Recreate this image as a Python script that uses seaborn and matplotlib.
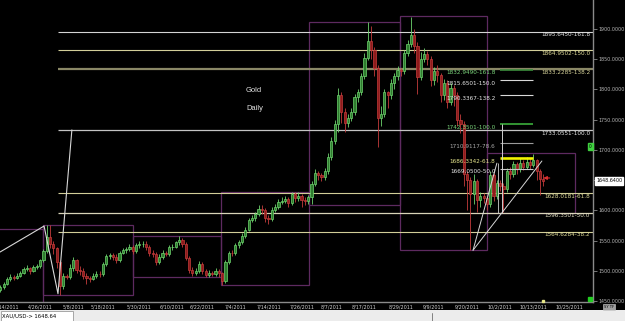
import numpy as np
import pandas as pd
import matplotlib
matplotlib.use("Agg")
import matplotlib.pyplot as plt
import matplotlib.transforms as mtransforms
from matplotlib.patches import Rectangle
from matplotlib import font_manager
import seaborn as sns

# ---------------- data ----------------
first_open = 1468
closes = [1473,1478,1486,1490,1488,1492,1496,1503,1505,1500,
          1506,1508,1517,1532,1556,1545,1537,1515,1474,1491,
          1490,1505,1517,1502,1500,1492,1488,1487,1492,1495,
          1494,1511,1524,1526,1523,1518,1530,1534,1536,1540,
          1532,1542,1544,1545,1539,1530,1528,1515,1523,1530,
          1528,1539,1540,1547,1551,1545,1521,1502,1497,1500,
          1512,1499,1493,1497,1494,1500,1496,1483,1514,1530,
          1529,1542,1547,1558,1568,1584,1587,1594,1603,1600,
          1588,1586,1601,1605,1614,1616,1618,1612,1627,1620,
          1624,1617,1615,1622,1644,1662,1658,1655,1665,1688,
          1715,1742,1790,1762,1745,1752,1762,1787,1795,1822,
          1852,1880,1865,1835,1752,1760,1795,1790,1810,1822,
          1832,1830,1860,1876,1890,1872,1820,1850,1858,1850,
          1815,1830,1824,1790,1810,1780,1802,1790,1750,1742,
          1660,1650,1627,1648,1617,1623,1620,1610,1658,1623,
          1645,1640,1636,1665,1660,1676,1668,1678,1672,1680,
          1675,1683,1665,1652,1648.64]
highs = [1477,1482,1489,1494,1493,1497,1500,1506,1509,1507,
         1509,1512,1520,1536,1575,1576,1550,1540,1518,1496,
         1494,1512,1522,1520,1508,1504,1496,1492,1497,1499,
         1500,1514,1527,1530,1530,1527,1533,1538,1540,1545,
         1543,1546,1549,1550,1549,1542,1535,1531,1527,1534,
         1533,1542,1545,1550,1557,1554,1548,1525,1507,1505,
         1516,1515,1503,1501,1499,1504,1503,1498,1517,1533,
         1535,1546,1551,1563,1572,1588,1592,1598,1609,1608,
         1604,1593,1605,1610,1619,1622,1624,1622,1630,1630,
         1630,1627,1622,1626,1648,1668,1665,1662,1670,1695,
         1722,1750,1802,1795,1770,1760,1770,1792,1800,1828,
         1860,1911,1905,1870,1840,1772,1800,1798,1818,1828,
         1838,1836,1866,1882,1920,1900,1878,1862,1868,1864,
         1855,1837,1840,1828,1818,1815,1810,1808,1795,1760,
         1748,1665,1655,1660,1652,1630,1628,1626,1665,1662,
         1650,1650,1645,1670,1672,1682,1680,1686,1684,1688,
         1686,1694,1685,1668,1660]
lows = [1465,1470,1476,1483,1485,1486,1489,1494,1500,1494,
        1498,1503,1505,1514,1530,1538,1528,1505,1460,1470,
        1487,1486,1500,1496,1493,1486,1478,1482,1484,1488,
        1489,1492,1508,1520,1517,1513,1515,1527,1530,1533,
        1528,1530,1538,1539,1535,1525,1522,1510,1512,1520,
        1524,1525,1535,1537,1543,1540,1518,1497,1492,1493,
        1497,1495,1490,1490,1491,1491,1490,1477,1480,1511,
        1524,1526,1538,1544,1554,1565,1580,1583,1590,1594,
        1580,1578,1583,1597,1602,1610,1612,1606,1609,1614,
        1616,1606,1608,1610,1610,1640,1650,1648,1650,1660,
        1683,1710,1730,1745,1730,1738,1747,1757,1780,1790,
        1818,1848,1850,1822,1705,1740,1755,1770,1785,1800,
        1815,1822,1826,1855,1870,1860,1792,1815,1845,1840,
        1805,1808,1812,1780,1783,1770,1775,1772,1740,1728,
        1640,1600,1534,1610,1598,1605,1612,1600,1606,1615,
        1618,1632,1597,1630,1652,1655,1660,1663,1666,1668,
        1668,1672,1650,1625,1640]

tick_bars = [2,12,22,31,42,52,61,71,81,91,100,110,121,131,141,151,161,172]
tick_labels = ['4/14/2011','4/26/2011','5/8/2011','5/18/2011','5/30/2011','6/10/2011',
               '6/22/2011','7/4/2011','7/14/2011','7/26/2011','8/7/2011','8/17/2011',
               '8/29/2011','9/9/2011','9/20/2011','10/2/2011','10/13/2011','10/25/2011']
price_ticks = [1450,1500,1550,1600,1650,1700,1750,1800,1850,1900]
last_price = 1648.64

fib1_prices = [1895.6450, 1864.9502, 1833.2285, 1733.0551, 1628.0181, 1596.3501, 1564.6284]
fib1_levels = ['161.8','150.0','138.2','100.0','61.8','50.0','38.2']
fib2_prices = [1832.9490, 1815.6501, 1790.3367, 1742.3501, 1710.9117, 1686.3342, 1669.0500]
fib2_levels = ['161.8','150.0','138.2','100.0','78.6','61.8','50.0']

# monthly range boxes (bar index start/end, high, low)
box_start = [-5, 12.9, 40.1, 66.6, 93.2, 120.7, 147.0]
box_end = [12.9, 40.1, 66.6, 93.2, 120.7, 147.0, 173.6]
box_high = [1569, 1576, 1557, 1630, 1911.6, 1921.5, 1695]
box_low = [1400, 1460, 1490, 1476, 1609, 1534.4, 1596]

# swing lines (bar index, price)
swing_bars = [-0.1, 13.2, 17.4, 21.6]
swing_prices = [1531, 1574, 1462, 1733]
tri_apex = (142.8, 1534)
tri_ends = [(150.0, 1678), (163.6, 1681.6)]

# ---------------- style ----------------
sns.set_theme(style="dark", rc={"axes.facecolor": "black", "figure.facecolor": "black"})
names = {f.name for f in font_manager.fontManager.ttflist}
NARROW = 'Liberation Sans Narrow' if 'Liberation Sans Narrow' in names else 'DejaVu Sans'
plt.rcParams['font.family'] = [NARROW, 'DejaVu Sans']
plt.rcParams['font.stretch'] = 'condensed'

fig = plt.figure(figsize=(6.25, 3.21), dpi=100)
fig.patch.set_facecolor('black')
ax = fig.add_axes([0, 19/321, 593/625, 302/321])
ax.set_facecolor('black')

n = len(closes)
opens = [first_open] + closes[:-1]
df = pd.DataFrame(dict(bar=np.arange(n), open=opens, high=highs, low=lows, close=closes))
df['up'] = df['close'] >= df['open']
df['bottom'] = df[['open', 'close']].min(axis=1)
df['height'] = (df['close'] - df['open']).abs().clip(lower=0.9)

FS_FIB = 4.6
FS_TICK = 3.9

# boxes
for s, e, h, l in zip(box_start, box_end, box_high, box_low):
    ax.add_patch(Rectangle((s, l), e - s, h - l, fill=False, edgecolor='#5e2a60', lw=0.9, zorder=1))

# fib set 1
f1_line_cols = ['#d4d4d4', '#d2ce98', '#8a8866', '#c4c4c4', '#d2ce98', '#d8d4b8', '#d2ce98']
f1_lw = [0.8, 0.8, 1.6, 0.9, 0.8, 0.9, 0.8]
f1_txt_cols = ['#e8e8e8', '#e0dc9a', '#d8d49a', '#e8e8e8', '#e0dc9a', '#e4e0c4', '#e0dc9a']
for p, lv, c, w, tc in zip(fib1_prices, fib1_levels, f1_line_cols, f1_lw, f1_txt_cols):
    ax.hlines(p, swing_bars[2], 182, color=c, lw=w, zorder=2)
    ax.text(178.2, p - 1.2, f"{p:.4f}-{lv}", color=tc, fontsize=FS_FIB, ha='right', va='top', zorder=6)

# fib set 2
f2_line_cols = ['#3a8a3a', '#d8d8d8', '#d8d8d8', '#3cae3c', '#9a9a9a', '#f2f200', '#c8c8c8']
f2_lw = [1.2, 0.8, 0.8, 1.2, 0.8, 1.9, 0.8]
f2_txt_cols = ['#7cd67c', '#e8e8e8', '#e8e8e8', '#7cd67c', '#a8a8a8', '#e6e68c', '#e8e8e8']
for p, lv, c, w, tc in zip(fib2_prices, fib2_levels, f2_line_cols, f2_lw, f2_txt_cols):
    ax.hlines(p, 151.0, 160.9, color=c, lw=w, zorder=4)
    ax.text(149.6, p - 1.0, f"{p:.4f}-{lv}", color=tc, fontsize=FS_FIB, ha='right', va='top', zorder=6)
ax.vlines(151.6, fib2_prices[3] - 146.6, fib2_prices[3], color='#d0d0d0', lw=0.7, zorder=4)

# candles
for up, sub in df.groupby('up'):
    face = '#2e7d2e' if up else '#8e1b1b'
    edge = '#6fd46f' if up else '#c53c3c'
    ax.vlines(sub['bar'], sub['low'], sub['high'], color=edge, lw=0.6, zorder=3)
    ax.bar(sub['bar'], sub['height'], bottom=sub['bottom'], width=0.66,
           color=face, edgecolor=edge, linewidth=0.5, zorder=3.5)

# swing / trend lines
sns.lineplot(x=swing_bars, y=swing_prices, ax=ax, color='#d8d8d8', lw=0.8, sort=False,
             estimator=None, zorder=5)
for ex, ey in tri_ends:
    sns.lineplot(x=[tri_apex[0], ex], y=[tri_apex[1], ey], ax=ax, color='#d8d8d8', lw=0.7,
                 sort=False, estimator=None, zorder=5)
ax.vlines(150.4, 1596, 1678, color='#d0d0d0', lw=0.6, zorder=5)

# red arrow
ax.annotate('', xy=(163.2, 1653.5), xytext=(166.8, 1653.5),
            arrowprops=dict(arrowstyle='-|>', color='#e03030', lw=0.8, mutation_scale=5), zorder=6)

# texts
ax.text(74.2, 1798, 'Gold', color='#e4e4e4', fontsize=5.4, family='Liberation Sans',
        fontstretch='normal', va='center', ha='left')
ax.text(74.2, 1768.5, 'Daily', color='#e4e4e4', fontsize=5.4, family='Liberation Sans',
        fontstretch='normal', va='center', ha='left')

# axes
ax.set_xlim(-0.115, 179.04)
ax.set_ylim(1448.3, 1948.0)
ax.grid(False)
for side in ['left', 'top']:
    ax.spines[side].set_visible(False)
for side in ['right', 'bottom']:
    ax.spines[side].set_visible(True)
    ax.spines[side].set_color('#8a8a8a')
    ax.spines[side].set_linewidth(1.0)
ax.yaxis.tick_right()
ax.set_yticks(price_ticks)
# the 1650 label sits under the current-price box, as in the reference
ax.set_yticklabels(['' if abs(p - last_price) < 10 else f"{p:.4f}" for p in price_ticks])
ax.tick_params(axis='y', right=True, length=3, width=0.6, color='#8a8a8a', pad=1.2,
               labelsize=FS_TICK, labelcolor='#b8b8b8')
ax.set_xticks(tick_bars)
ax.set_xticklabels(tick_labels)
ax.tick_params(axis='x', bottom=False, length=0, pad=1.8, labelsize=FS_TICK, labelcolor='#d4d4d4')

trans = mtransforms.blended_transform_factory(ax.transAxes, ax.transData)
ax.text(1.0055, last_price, f"{last_price:.4f}", transform=trans, fontsize=FS_TICK, color='black',
        ha='left', va='center', zorder=10, clip_on=False,
        bbox=dict(boxstyle='square,pad=0.2', fc='white', ec='white'))
ax.text(178.3, 1705, '0', fontsize=3.5, color='black', ha='center', va='center', zorder=10,
        bbox=dict(boxstyle='square,pad=0.2', fc='#3fd03f', ec='#3fd03f'))
ax.plot([178.2], [1452.5], 's', color='#22cc22', ms=3.2, zorder=10, clip_on=False)
ax.plot([164.0], [1449.2], 's', color='#e8e888', ms=1.8, zorder=10, clip_on=False)

# status bar
fig.patches.append(Rectangle((0, 0), 1, 11/321, transform=fig.transFigure, fc='#ececec', ec='none'))
fig.patches.append(Rectangle((0.001, 0.0), 72/625, 10/321, transform=fig.transFigure, fc='white',
                             ec='#9a9a9a', lw=0.6))
fig.add_artist(plt.Line2D([432/625, 432/625], [0, 8/321], transform=fig.transFigure, color='#707070', lw=0.6))
fig.text(2/625, 5.5/321, 'XAU/USD-> 1648.64', fontsize=4.2, color='black', va='center', ha='left')
fig.text(604/625, 14.0/321, 'SY TF', fontsize=3.0, color='black', va='center', ha='left',
         bbox=dict(boxstyle='square,pad=0.15', fc='#a0a0a0', ec='#d0d0d0', lw=0.4))

fig.savefig('out.png', dpi=100, facecolor='black')
